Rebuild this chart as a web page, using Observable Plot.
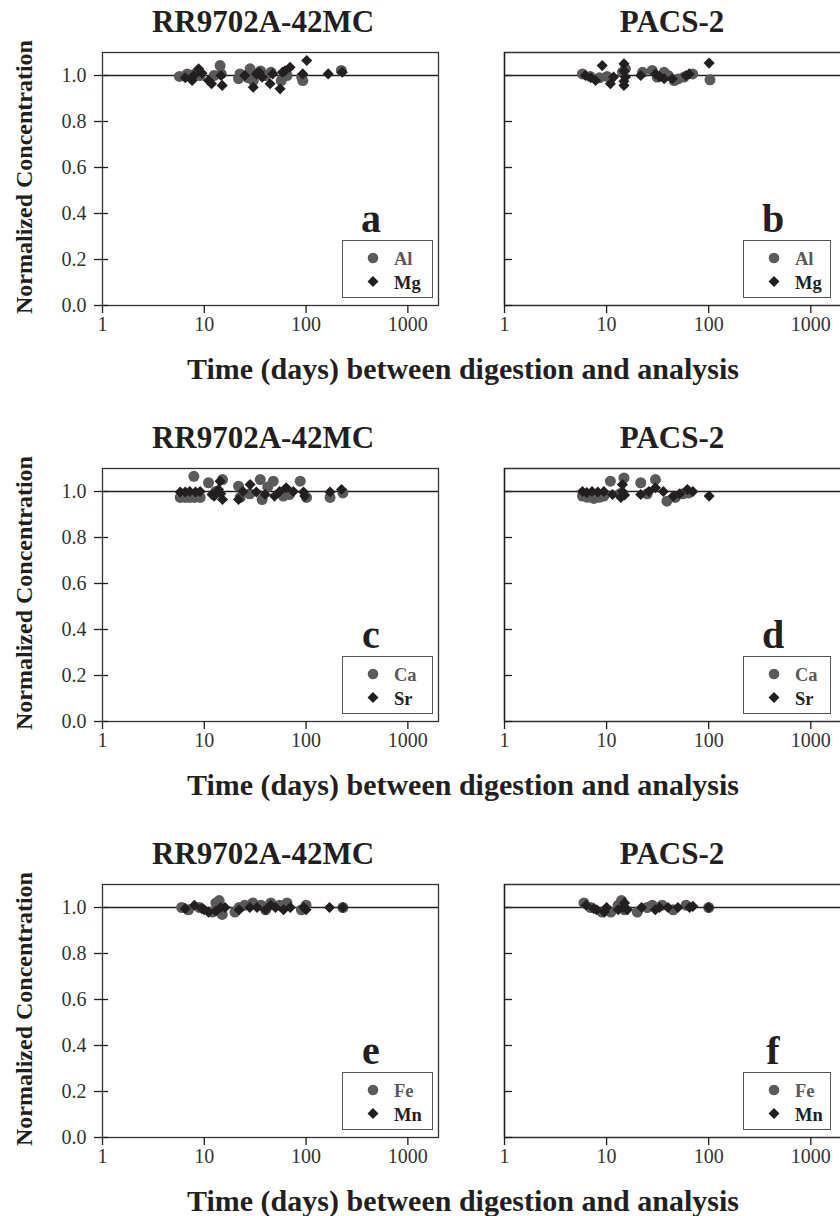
<!DOCTYPE html>
<html><head><meta charset="utf-8">
<script src="https://cdn.jsdelivr.net/npm/d3@7"></script>
<script src="https://cdn.jsdelivr.net/npm/@observablehq/plot@0.6"></script>
<style>
body{margin:0;background:#fff;}
#root{position:relative;width:840px;height:1216px;overflow:hidden;font-family:"Liberation Serif",serif;color:#231f20;background:#fff;}
.abs{position:absolute;white-space:nowrap;line-height:1;}
.title{font-weight:bold;font-size:31px;transform:translateX(-50%);}
.xlabel{font-weight:bold;font-size:30px;transform:translateX(-50%);}
.ylabel{font-weight:bold;font-size:24px;transform:translate(-50%,-50%) rotate(-90deg);}
.letter{font-weight:bold;font-size:40px;transform:translateX(-50%);}
.legend{border:1.3px solid #555;box-sizing:border-box;background:#fff;}
.legend .row{position:absolute;font-weight:bold;font-size:18.5px;line-height:1;}
.legend svg{position:absolute;}
</style></head><body><div id="root"></div>
<script>
// ---- data: [days, normalized concentration] ----
const rrAl = [[5.7,0.996],[6.8,1.007],[8.0,1.005],[9.1,1.0],[12.5,1.0],[14.3,1.043],[14.7,1.007],[21.7,0.986],[22.4,1.007],[27,0.99],[28.2,1.029],[30.3,0.978],[35.7,1.02],[40,1.0],[45.3,1.014],[57,0.978],[65,1.0],[90.6,0.993],[92.8,0.978],[222,1.022]];
const rrMg = [[6.5,0.99],[7.6,0.978],[7.9,1.0],[8.8,1.029],[9.5,1.01],[11.0,0.978],[11.8,0.964],[14.6,1.0],[15.0,0.957],[25,1.0],[30.3,0.949],[32.5,1.007],[34.6,1.014],[37,0.993],[44.3,0.964],[47,1.007],[55.6,0.942],[58.6,1.014],[62,1.02],[69.6,1.036],[92.8,1.007],[101.5,1.065],[165,1.007],[227,1.014]];
const pacsAl = [[5.8,1.007],[6.9,0.996],[8.5,0.99],[10.1,0.996],[14.3,1.014],[15.3,1.029],[22.5,1.014],[28,1.022],[31.3,0.993],[36.6,1.014],[40,1.0],[45.9,0.978],[50,0.985],[57.4,0.993],[69.6,1.007],[103,0.981]];
const pacsMg = [[6.2,1.0],[7,0.99],[7.8,0.978],[9.06,1.043],[10.9,0.964],[11.7,0.993],[14.8,1.051],[14.8,1.02],[14.8,0.975],[14.8,0.957],[15.3,0.993],[21.6,1.0],[30.2,1.007],[33,0.995],[36.6,0.986],[44.1,0.986],[60,1.0],[64.5,1.007],[101,1.054]];
const rrCa = [[5.8,0.974],[6.5,0.974],[7.2,0.974],[7.9,1.066],[8.0,0.974],[9.1,0.974],[11,1.038],[13,1.0],[15.1,1.052],[21.7,1.023],[22.5,0.974],[28,0.99],[35.5,1.052],[37,0.965],[42,1.02],[47.6,1.045],[59.7,0.98],[68.5,0.987],[87.6,1.045],[101,0.974],[172,0.974],[230,0.994]];
const rrSr = [[5.8,0.998],[6.5,0.998],[7.2,1.0],[8.2,0.998],[9.1,1.0],[11.9,0.987],[12.5,0.98],[13.8,1.009],[14.3,1.045],[14.5,0.99],[15.1,0.965],[21.7,0.965],[24,1.0],[28.2,1.03],[32.5,0.998],[39.7,0.987],[49,0.98],[55,1.0],[63.8,1.016],[75,1.0],[94.4,0.998],[97,0.98],[172,0.998],[223,1.009]];
const pacsCa = [[5.8,0.98],[6.5,0.975],[7.5,0.97],[8.5,0.975],[9.4,0.98],[10.9,1.045],[13.5,0.99],[14.8,1.059],[21.6,1.038],[25,0.99],[30.1,1.052],[39,0.958],[47,0.974],[56,0.99],[64,0.994]];
const pacsSr = [[5.8,1.0],[6.4,0.995],[7.2,1.0],[8.2,0.998],[9.4,1.0],[11.4,0.987],[13.8,0.974],[14.3,1.03],[14.3,1.0],[15,0.985],[21.6,0.987],[26,1.0],[30.1,1.016],[36,1.0],[45,0.98],[52,0.99],[61.8,1.009],[70,1.0],[101,0.98]];
const rrFe = [[6,1.0],[7,0.99],[9,1.0],[12,0.98],[13,1.02],[14,1.03],[14,0.99],[15,0.97],[20,0.98],[22,1.0],[25,1.01],[30,1.02],[36,1.01],[40,0.99],[45,1.02],[55,1.01],[65,1.02],[90,0.99],[100,1.01],[230,1.0]];
const rrMn = [[6.5,0.995],[8,1.01],[9.5,0.995],[10,0.99],[11,0.98],[13,0.985],[14.5,1.0],[16,1.0],[22,0.99],[28,1.0],[33,1.0],[40,0.99],[45,1.01],[50,1.0],[60,0.99],[70,1.0],[95,1.0],[100,0.99],[170,1.0],[230,1.0]];
const pacsFe = [[6,1.02],[7,1.0],[9,0.98],[11,0.98],[13,1.01],[14,1.03],[14,1.0],[15,0.99],[20,0.98],[25,1.0],[28,1.01],[35,1.01],[45,0.99],[60,1.01],[100,1.0]];
const pacsMn = [[6.3,1.01],[7.5,0.995],[8,0.99],[9.5,0.98],[10,1.0],[13,0.99],[14.5,1.0],[15,1.02],[16,0.99],[22,1.0],[30,0.99],[33,1.0],[40,1.0],[50,1.0],[65,1.0],[70,1.005],[100,1.0]];

const samples = ["RR9702A-42MC", "PACS-2"];
const elementPairs = [["Al","Mg"],["Ca","Sr"],["Fe","Mn"]];
const letters = [["a","b"],["c","d"],["e","f"]];
const panelData = [[[rrAl, rrMg],[pacsAl, pacsMg]], [[rrCa, rrSr],[pacsCa, pacsSr]], [[rrFe, rrMn],[pacsFe, pacsMn]]];
const xTicks = [1, 10, 100, 1000];
const yTicks = [0, 0.2, 0.4, 0.6, 0.8, 1.0];
const yLabel = "Normalized Concentration";
const xLabel = "Time (days) between digestion and analysis";

const CIRC = "#5a5a5a", DIAM = "#231f20", INK = "#231f20";
const root = document.getElementById("root");
const rowTops = [0, 416, 832];

function add(el, cls, css, text) {
  const d = document.createElement(el);
  d.className = cls;
  Object.assign(d.style, css);
  if (text != null) d.textContent = text;
  root.appendChild(d);
  return d;
}

function panel(row, col) {
  const top = rowTops[row];
  const isLeft = col === 0;
  const [circ, diam] = panelData[row][col];
  const marginLeft = isLeft ? 102 : 20;
  const width = isLeft ? 460 : 357;
  const marginRight = isLeft ? 22 : 0;
  const marks = [];
  if (isLeft) {
    marks.push(Plot.frame({stroke: "#333", strokeWidth: 1.3}));
    marks.push(Plot.axisY({ticks: yTicks, tickSize: 14, dx: 6, fill: "none", stroke: INK, strokeWidth: 1.3, label: null}));
    marks.push(Plot.axisY({ticks: yTicks, tickSize: 0, tickPadding: 16, tickFormat: d3.format(".1f"), fill: "#333", label: null, fontSize: 20}));
  } else {
    marks.push(Plot.ruleY([0, 1.1], {stroke: "#333", strokeWidth: 1.3}));
    marks.push(Plot.ruleX([1], {stroke: INK, strokeWidth: 1.6}));
    marks.push(Plot.axisY({ticks: yTicks, tickSize: 8, dx: 8, fill: "none", stroke: INK, strokeWidth: 1.3, label: null}));
  }
  marks.push(Plot.axisX({ticks: xTicks, tickSize: 8, tickPadding: 3, tickFormat: d3.format("d"), stroke: INK, strokeWidth: 1.3, fill: "#333", label: null, fontSize: 20}));
  marks.push(Plot.ruleY([1], {stroke: INK, strokeWidth: 1.3}));
  marks.push(Plot.dot(circ, {x: d => d[0], y: d => d[1], r: 5.5, fill: CIRC, symbol: "circle"}));
  marks.push(Plot.dot(diam, {x: d => d[0], y: d => d[1], r: 5, fill: DIAM, symbol: "diamond2"}));
  const svg = Plot.plot({
    width, height: 345, marginTop: 52, marginBottom: 40, marginLeft, marginRight,
    x: {type: "log", domain: [1, 2000]},
    y: {domain: [0, 1.1]},
    style: {fontFamily: "'Liberation Serif', serif", fontSize: "20px", color: INK, background: "transparent", overflow: "visible"},
    marks
  });
  svg.style.position = "absolute";
  svg.style.left = (isLeft ? 0 : 484) + "px";
  svg.style.top = top + "px";
  root.appendChild(svg);

  if (isLeft) add("div", "abs ylabel", {left: "24px", top: (top + 177) + "px"}, yLabel);
  // title
  add("div", "abs title", {left: (isLeft ? 263 : 672) + "px", top: (top + 6) + "px"}, samples[col]);
  // panel letter
  const lx = isLeft ? 371 : 773;
  add("div", "abs letter", {left: lx + "px", top: (top + 199) + "px"}, letters[row][col]);
  // legend box
  const bx = isLeft ? 342 : 743, bw = isLeft ? 91 : 88;
  const lg = add("div", "abs legend", {left: bx + "px", top: (top + 240) + "px", width: bw + "px", height: "58px"});
  const [e1, e2] = elementPairs[row];
  const ns = "http://www.w3.org/2000/svg";
  const s = document.createElementNS(ns, "svg");
  s.setAttribute("width", 20); s.setAttribute("height", 50);
  s.style.left = "20px"; s.style.top = "4px";
  s.innerHTML = `<circle cx="10" cy="13" r="5.3" fill="${CIRC}"/><path d="M10,31L15.5,36.5L10,42L4.5,36.5Z" fill="${DIAM}"/>`;
  lg.appendChild(s);
  const t1 = document.createElement("div"); t1.className = "row"; t1.textContent = e1;
  Object.assign(t1.style, {left: "51px", top: "9px", color: CIRC});
  const t2 = document.createElement("div"); t2.className = "row"; t2.textContent = e2;
  Object.assign(t2.style, {left: "51px", top: "33px", color: INK});
  lg.appendChild(t1); lg.appendChild(t2);
}

for (let r = 0; r < 3; r++) {
  panel(r, 0); panel(r, 1);
  add("div", "abs xlabel", {left: "463px", top: (rowTops[r] + 354) + "px"}, xLabel);
}
</script></body></html>
